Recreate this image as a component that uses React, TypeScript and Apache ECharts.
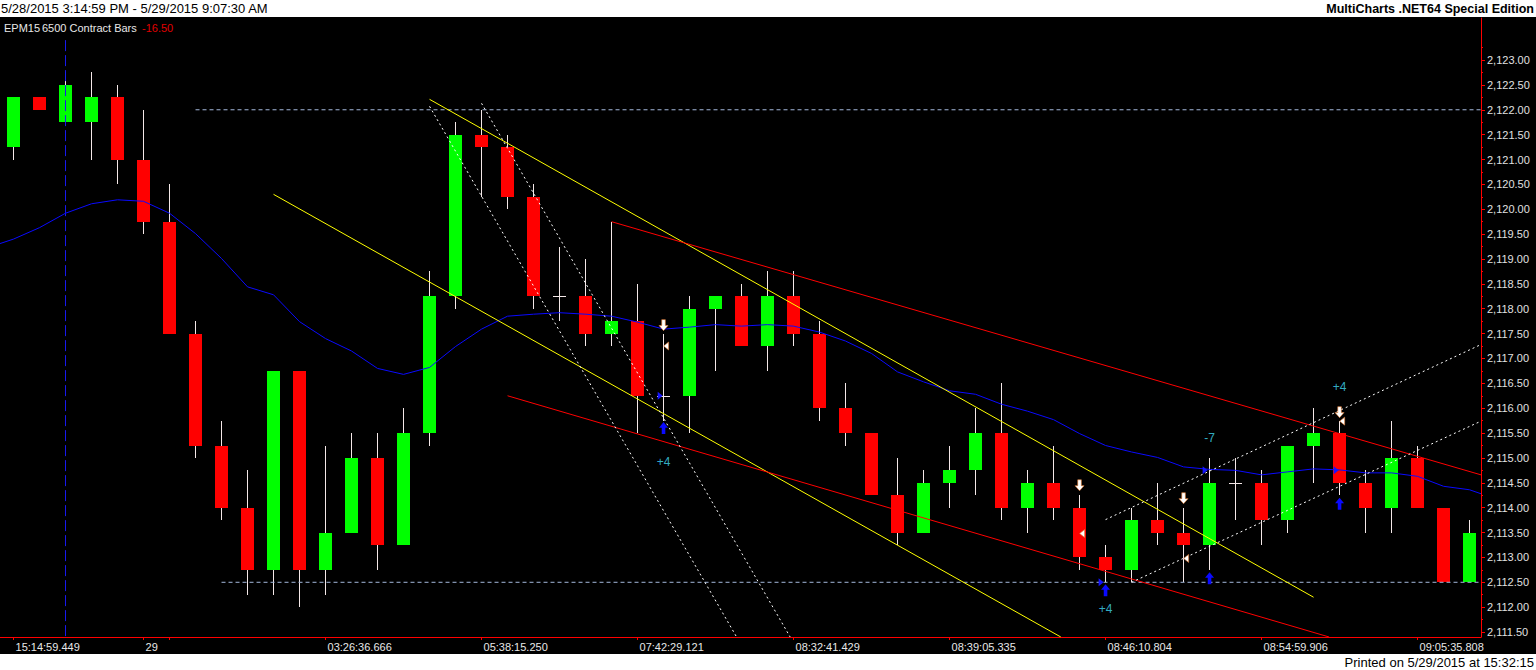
import { useEffect, useRef } from 'react';
import * as echarts from 'echarts';

// EPM15, 6500 contract bars
const opens = [
  2121.25, 2122.25, 2121.75, 2121.75, 2122.25, 2121.0, 2119.75, 2117.5, 2115.25, 2114.0,
  2112.75, 2116.75, 2112.75, 2113.5, 2115.0, 2113.25, 2115.5, 2118.25, 2121.5, 2121.25,
  2120.25, 2118.25, 2118.25, 2117.5, 2117.75, 2116.25, 2116.25, 2118.0, 2118.25, 2117.25,
  2118.25, 2117.5, 2116.0, 2115.5, 2114.25, 2113.5, 2114.5, 2114.75, 2115.5, 2114.0,
  2114.5, 2114.0, 2113.0, 2112.75, 2113.75, 2113.5, 2113.25, 2114.5, 2114.5, 2113.75,
  2115.25, 2115.5, 2114.5, 2114.0, 2115.0, 2114.0, 2112.5,
];
const closes = [
  2122.25, 2122.0, 2122.5, 2122.25, 2121.0, 2119.75, 2117.5, 2115.25, 2114.0, 2112.75,
  2116.75, 2112.75, 2113.5, 2115.0, 2113.25, 2115.5, 2118.25, 2121.5, 2121.25, 2120.25,
  2118.25, 2118.25, 2117.5, 2117.75, 2116.25, 2116.25, 2118.0, 2118.25, 2117.25, 2118.25,
  2117.5, 2116.0, 2115.5, 2114.25, 2113.5, 2114.5, 2114.75, 2115.5, 2114.0, 2114.5,
  2114.0, 2113.0, 2112.75, 2113.75, 2113.5, 2113.25, 2114.5, 2114.5, 2113.75, 2115.25,
  2115.5, 2114.5, 2114.0, 2115.0, 2114.0, 2112.5, 2113.5,
];
const highs = [
  2122.25, 2122.25, 2122.75, 2122.75, 2122.5, 2122.0, 2120.5, 2117.75, 2115.75, 2114.75,
  2116.75, 2116.75, 2115.25, 2115.5, 2115.5, 2116.0, 2118.75, 2121.75, 2122.0, 2121.5,
  2120.5, 2119.25, 2119.0, 2119.75, 2118.5, 2117.5, 2118.25, 2118.25, 2118.5, 2118.75,
  2118.75, 2117.75, 2116.5, 2115.5, 2115.0, 2114.75, 2115.25, 2116.0, 2116.5, 2114.75,
  2115.25, 2114.25, 2113.25, 2114.0, 2114.5, 2114.0, 2115.0, 2115.0, 2114.75, 2115.25,
  2116.0, 2115.75, 2114.75, 2115.75, 2115.25, 2114.0, 2113.75,
];
const lows = [
  2121.0, 2122.0, 2121.75, 2121.0, 2120.5, 2119.5, 2117.5, 2115.0, 2113.75, 2112.25,
  2112.25, 2112.0, 2112.25, 2113.5, 2112.75, 2113.25, 2115.25, 2118.0, 2120.25, 2120.0,
  2118.0, 2117.75, 2117.25, 2117.25, 2115.5, 2115.75, 2115.5, 2116.75, 2117.25, 2116.75,
  2117.25, 2115.75, 2115.25, 2114.25, 2113.25, 2113.5, 2114.0, 2114.25, 2113.75, 2113.5,
  2113.75, 2112.75, 2112.5, 2112.5, 2113.25, 2112.5, 2112.75, 2113.75, 2113.25, 2113.5,
  2114.5, 2114.25, 2113.5, 2113.5, 2114.0, 2112.5, 2112.5,
];

// blue average, one value per bar, plus the readings at the two plot edges
const maValues = [
  2119.4, 2119.63, 2119.92, 2120.11, 2120.19, 2120.16, 2119.92, 2119.51, 2119.01, 2118.44,
  2118.28, 2117.74, 2117.4, 2117.15, 2116.8, 2116.68, 2116.82, 2117.24, 2117.59, 2117.85,
  2117.89, 2117.92, 2117.89, 2117.85, 2117.73, 2117.59, 2117.63, 2117.68, 2117.65, 2117.68,
  2117.65, 2117.53, 2117.35, 2117.1, 2116.73, 2116.53, 2116.35, 2116.28, 2116.08, 2115.94,
  2115.77, 2115.49, 2115.25, 2115.12, 2115.01, 2114.82, 2114.77, 2114.75, 2114.66, 2114.72,
  2114.78, 2114.76, 2114.7, 2114.7, 2114.63, 2114.43, 2114.36,
];
const maEdges = [2119.31, 2114.28];

const xTickBars = [0, 5, 6, 12, 18, 24, 30, 36, 42, 48, 54];
const xLabelBars = [0, 5, 12, 18, 24, 30, 36, 42, 48, 54];
const xLabelTexts = [
  '15:14:59.449', '29', '03:26:36.666', '05:38:15.250', '07:42:29.121',
  '08:32:41.429', '08:39:05.335', '08:46:10.804', '08:54:59.906', '09:05:35.808',
];
const yLabelValues = [
  2111.5, 2112, 2112.5, 2113, 2113.5, 2114, 2114.5, 2115, 2115.5, 2116, 2116.5, 2117,
  2117.5, 2118, 2118.5, 2119, 2119.5, 2120, 2120.5, 2121, 2121.5, 2122, 2122.5, 2123,
];

const X_MIN = -0.52;
const X_MAX = 56.44;
const Y_MIN = 2111.4;
const Y_MAX = 2123.845;

// drawings: [barFrom, priceFrom, barTo, priceTo]
const yellowLines = [
  [16, 2122.21, 50, 2112.2],
  [10, 2120.3, 40.28, 2111.4],
];
const redLines = [
  [23, 2119.75, X_MAX, 2114.66],
  [19, 2116.25, 50.6, 2111.4],
];
const whiteDashLines = [
  [16, 2122.07, 27.81, 2111.4],
  [18, 2122.13, 29.87, 2111.4],
  [42, 2113.76, X_MAX, 2117.28],
  [43, 2112.5, X_MAX, 2115.74],
];
const levelLines = [
  [7, 2122, X_MAX, 2122],
  [8, 2112.5, X_MAX, 2112.5],
];
const sessionBreak = [2, 2123.4, 2, Y_MIN];

// trade markers [bar, price]
const exitArrows = [[25, 2117.67], [41, 2114.45], [45, 2114.19], [51, 2115.92]];
const exitTicks = [[25.1, 2117.25], [41.1, 2113.48], [45.1, 2112.98], [51.1, 2115.74]];
const entryTicks = [[24.87, 2116.25], [41.83, 2112.5], [45.83, 2114.75], [50.87, 2114.75]];
const entryArrows = [[25, 2115.6], [42, 2112.34], [46, 2112.58], [51, 2114.08]];
const tradeLabels = [[25, 2114.92, '+4'], [42, 2111.97, '+4'], [46, 2115.41, '-7'], [51, 2116.42, '+4']];

const WICK = '#F4E8E8';
const FONT = '"Liberation Sans", Arial, sans-serif';

function segment(pts: number[], color: string, dash?: number[]) {
  return {
    type: 'line',
    data: [[pts[0], pts[1]], [pts[2], pts[3]]],
    symbol: 'none',
    silent: true,
    lineStyle: { color, width: 1, type: dash ?? 'solid' },
    z: 3,
  };
}

export default function App() {
  const chartRef = useRef<HTMLDivElement>(null);

  useEffect(() => {
    if (!chartRef.current) return;
    document.body.style.margin = '0';
    const chart = echarts.init(chartRef.current, null, { renderer: 'svg' });

    const candles = opens.map((o, i) => [i, o, closes[i], lows[i], highs[i]]);
    const ma = [[X_MIN, maEdges[0]], ...maValues.map((v, i) => [i, v]), [X_MAX, maEdges[1]]];
    const upArrow = 'path://M5 0L10 6L7 6L7 13L3 13L3 6L0 6Z';

    const option: any = {
      animation: false,
      backgroundColor: '#000000',
      grid: { left: 0, right: 55, top: 18, bottom: 33 },
      xAxis: {
        type: 'value',
        min: X_MIN,
        max: X_MAX,
        axisLine: { show: true, onZero: false, lineStyle: { color: '#FF0000', width: 1 } },
        axisTick: { show: true, customValues: xTickBars, length: 3, lineStyle: { color: '#FF0000' } },
        axisLabel: {
          customValues: xLabelBars,
          formatter: (v: number) => xLabelTexts[xLabelBars.indexOf(Math.round(v))] ?? '',
          align: 'left',
          color: '#E8E8E8',
          fontFamily: FONT,
          fontSize: 11,
          margin: 4,
          padding: [0, 0, 0, 2],
        },
        splitLine: { show: false },
      },
      yAxis: [
        {
          type: 'value',
          position: 'right',
          min: Y_MIN,
          max: Y_MAX,
          axisLine: { show: true, onZero: false, lineStyle: { color: '#FF0000', width: 1 } },
          axisTick: { show: true, customValues: yLabelValues, length: 4, lineStyle: { color: '#FF0000' } },
          axisLabel: {
            customValues: yLabelValues,
            formatter: (v: number) =>
              v.toLocaleString('en-US', { minimumFractionDigits: 2, maximumFractionDigits: 2 }),
            color: '#E0E0E0',
            fontFamily: FONT,
            fontSize: 11,
            margin: 6,
          },
          splitLine: { show: false },
        },
        {
          type: 'value',
          position: 'right',
          min: Y_MIN,
          max: Y_MAX,
          axisLine: { show: false, onZero: false },
          axisTick: {
            show: true,
            customValues: yLabelValues.map(v => v + 0.25),
            length: 2,
            lineStyle: { color: '#FF0000' },
          },
          axisLabel: { show: false },
          splitLine: { show: false },
        },
      ],
      graphic: [
        { type: 'rect', shape: { x: 0, y: 0, width: 1536, height: 17 }, style: { fill: '#FFFFFF' } },
        { type: 'rect', shape: { x: 0, y: 654, width: 1536, height: 16 }, style: { fill: '#FFFFFF' } },
        {
          type: 'text',
          style: {
            text: '5/28/2015 3:14:59 PM - 5/29/2015 9:07:30 AM',
            x: 1, y: 8.5, fill: '#000000', font: `13px ${FONT}`,
            textAlign: 'left', textVerticalAlign: 'middle',
          },
        },
        {
          type: 'text',
          style: {
            text: 'MultiCharts .NET64 Special Edition',
            x: 1534, y: 8.5, fill: '#000000', font: `bold 12.5px ${FONT}`,
            textAlign: 'right', textVerticalAlign: 'middle',
          },
        },
        {
          type: 'text',
          style: {
            text: 'Printed on 5/29/2015 at 15:32:15',
            x: 1534, y: 662, fill: '#000000', font: `13px ${FONT}`,
            textAlign: 'right', textVerticalAlign: 'middle',
          },
        },
        {
          type: 'text',
          style: { text: 'EPM15', x: 4, y: 28, fill: '#E8E8E8', font: `11px ${FONT}`, textAlign: 'left', textVerticalAlign: 'middle' },
        },
        {
          type: 'text',
          style: { text: '6500 Contract Bars', x: 42, y: 28, fill: '#E8E8E8', font: `11px ${FONT}`, textAlign: 'left', textVerticalAlign: 'middle' },
        },
        {
          type: 'text',
          style: { text: '-16.50', x: 142, y: 28, fill: '#E00000', font: `11px ${FONT}`, textAlign: 'left', textVerticalAlign: 'middle' },
        },
      ],
      series: [
        {
          type: 'custom',
          data: candles,
          encode: { x: 0, y: [1, 2, 3, 4] },
          z: 2,
          renderItem: (_params: any, api: any) => {
            const i = api.value(0);
            const o = api.value(1);
            const c = api.value(2);
            const top = api.coord([i, api.value(4)]);
            const bot = api.coord([i, api.value(3)]);
            const po = api.coord([i, o]);
            const pc = api.coord([i, c]);
            const cx = Math.floor(top[0]) + 0.5;
            const children: any[] = [
              {
                type: 'line',
                shape: { x1: cx, y1: Math.round(top[1]), x2: cx, y2: Math.round(bot[1]) },
                style: { stroke: WICK, lineWidth: 1 },
              },
            ];
            if (o === c) {
              const y = Math.round(po[1]) + 0.5;
              children.push({
                type: 'line',
                shape: { x1: cx - 6.5, y1: y, x2: cx + 6.5, y2: y },
                style: { stroke: WICK, lineWidth: 1 },
              });
            } else {
              const y1 = Math.round(Math.min(po[1], pc[1]));
              const y2 = Math.round(Math.max(po[1], pc[1]));
              children.push({
                type: 'rect',
                shape: { x: cx - 6.5, y: y1, width: 13, height: y2 - y1 },
                style: { fill: c > o ? '#00FF00' : '#FF0000' },
              });
            }
            return { type: 'group', children };
          },
        },
        ...levelLines.map(l => segment(l, '#A4B8DC', [4, 3])),
        segment(sessionBreak, '#1A1AF0', [11, 4]),
        {
          type: 'line',
          data: ma,
          symbol: 'none',
          silent: true,
          lineStyle: { color: '#0A0AFF', width: 1 },
          z: 3,
        },
        ...yellowLines.map(l => segment(l, '#FFFF00')),
        ...redLines.map(l => segment(l, '#FF0000')),
        ...whiteDashLines.map(l => segment(l, '#FFFFFF', [2, 3])),
        {
          type: 'scatter',
          data: exitArrows,
          symbol: upArrow,
          symbolRotate: 180,
          symbolSize: [9, 11],
          itemStyle: { color: '#FFFFFF', borderColor: '#E07830', borderWidth: 0.6, opacity: 1 },
          silent: true,
          z: 5,
        },
        {
          type: 'scatter',
          data: exitTicks,
          symbol: 'triangle',
          symbolRotate: 90,
          symbolSize: [8, 5],
          itemStyle: { color: '#FFFFFF', borderColor: '#E07830', borderWidth: 0.6, opacity: 1 },
          silent: true,
          z: 5,
        },
        {
          type: 'scatter',
          data: entryTicks,
          symbol: 'triangle',
          symbolRotate: -90,
          symbolSize: [8, 5],
          itemStyle: { color: '#1414FF', opacity: 1 },
          silent: true,
          z: 5,
        },
        {
          type: 'scatter',
          data: entryArrows,
          symbol: upArrow,
          symbolSize: [9, 12],
          itemStyle: { color: '#0A0AFF', opacity: 1 },
          silent: true,
          z: 5,
        },
        {
          type: 'scatter',
          data: tradeLabels.map(t => ({ value: [t[0], t[1]], label: t[2] })),
          symbolSize: 1,
          itemStyle: { color: 'rgba(0,0,0,0)' },
          label: {
            show: true,
            position: 'inside',
            formatter: (p: any) => p.data.label,
            color: '#40DCF4',
            fontFamily: FONT,
            fontSize: 12,
          },
          silent: true,
          z: 5,
        },
      ],
    };

    chart.setOption(option);

    return () => {
      chart.dispose();
    };
  }, []);

  return <div ref={chartRef} style={{ width: 1536, height: 670 }} />;
}
